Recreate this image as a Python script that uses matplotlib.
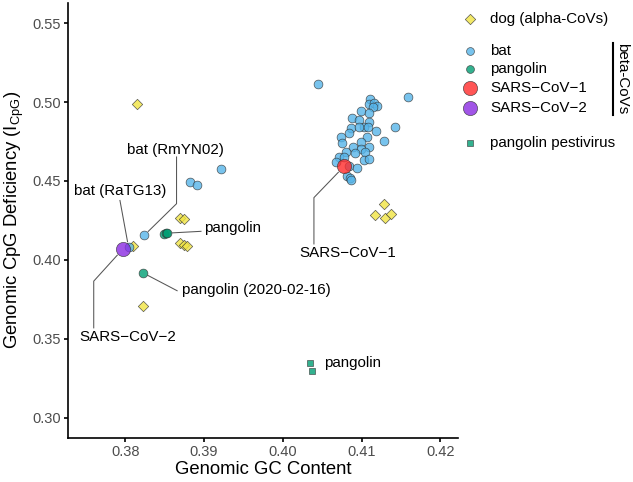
import numpy as np
import matplotlib
matplotlib.use("Agg")
import matplotlib.pyplot as plt

plt.rcParams['font.family'] = ['Liberation Sans', 'DejaVu Sans']
plt.rcParams['mathtext.fontset'] = 'custom'
plt.rcParams['mathtext.rm'] = 'Liberation Sans'
plt.rcParams['mathtext.it'] = 'Liberation Sans:italic'

# ---------------- data ----------------
dog_gc = [0.3815, 0.3870, 0.3875, 0.3870, 0.3874, 0.3878, 0.3822, 0.3810,
          0.4128, 0.4117, 0.4130, 0.4138]
dog_cpg = [0.4988, 0.4267, 0.4260, 0.4106, 0.4092, 0.4090, 0.3705, 0.4087,
           0.4356, 0.4286, 0.4263, 0.4290]

bat_gc = [0.4159, 0.4111, 0.4109, 0.4116, 0.4119, 0.4114, 0.4099, 0.4109,
          0.4088, 0.4097, 0.4110, 0.4103, 0.4086, 0.4097, 0.4108, 0.4118,
          0.4143, 0.4084, 0.4074, 0.4107, 0.4128, 0.4075, 0.4099, 0.4109,
          0.4089, 0.4099, 0.4080, 0.4092, 0.4105, 0.4071, 0.4078, 0.4103,
          0.4109, 0.4068, 0.4084, 0.4094, 0.4082, 0.4085, 0.4087, 0.4045,
          0.3921, 0.3882, 0.3891, 0.3824, 0.3804]
bat_cpg = [0.5031, 0.5019, 0.4988, 0.4997, 0.4976, 0.4971, 0.4946, 0.4929,
           0.4897, 0.4886, 0.4875, 0.4843, 0.4837, 0.4843, 0.4839, 0.4817,
           0.4839, 0.4801, 0.4779, 0.4779, 0.4753, 0.4741, 0.4747, 0.4715,
           0.4715, 0.4705, 0.4683, 0.4676, 0.4683, 0.4655, 0.4651, 0.4630,
           0.4641, 0.4621, 0.4598, 0.4583, 0.4534, 0.4519, 0.4506, 0.5117,
           0.4578, 0.4493, 0.4474, 0.4156, 0.4081]

pangolin_gc = [0.3849, 0.3851, 0.3853, 0.3822]
pangolin_cpg = [0.4166, 0.4172, 0.4168, 0.3919]

sars1_gc, sars1_cpg = [0.4078], [0.4594]
sars2_gc, sars2_cpg = [0.3797], [0.4070]

pesti_gc = [0.4034, 0.4037]
pesti_cpg = [0.3344, 0.3295]

x_ticks = [0.38, 0.39, 0.40, 0.41, 0.42]
y_ticks = [0.30, 0.35, 0.40, 0.45, 0.50, 0.55]

# annotations: label, text position, segment path (label end -> ... -> point)
annot_labels = ["bat (RmYN02)", "bat (RaTG13)", "pangolin", "pangolin (2020-02-16)",
                "SARS\u2212CoV\u22122", "SARS\u2212CoV\u22121", "pangolin"]
annot_text_xy = [(0.38641, 0.46983), (0.37930, 0.44375), (0.39362, 0.42024),
                 (0.39658, 0.38078), (0.38035, 0.35087), (0.40830, 0.40423),
                 (0.40522, 0.33440)]
annot_paths = [
    [(0.38650, 0.46554), (0.38650, 0.43562), (0.3824, 0.4156)],
    [(0.37930, 0.43799), (0.3804, 0.4081)],
    [(0.38967, 0.41813), (0.3851, 0.4169)],
    [(0.38663, 0.38033), (0.3822, 0.3919)],
    [(0.37598, 0.35663), (0.37598, 0.38655), (0.3797, 0.4070)],
    [(0.40395, 0.40980), (0.40395, 0.43946), (0.4078, 0.4594)],
    None,
]
annot_gap = [5, 5, 6, 5, 8, 8, 0]

# ---------------- style ----------------
W, H = 633, 482
fig = plt.figure(figsize=(W / 100, H / 100), dpi=100)
ax = fig.add_axes([68.3 / W, (H - 437.5) / H, (458 - 68.3) / W, (437.5 - 3.4) / H])
ax.set_xlim(0.37275, 0.42225)
ax.set_ylim(0.2875, 0.5625)

c_dog = '#F0E442'
c_bat = '#56B4E9'
c_pang = '#009E73'
c_s1 = '#FF2A2A'
c_s2 = '#8A2BE2'
ec = '#333333'
alpha = 0.8

ax.scatter(dog_gc, dog_cpg, marker='D', s=28, c=c_dog, alpha=alpha, edgecolors=ec, linewidths=0.5, zorder=3)
ax.scatter(bat_gc, bat_cpg, marker='o', s=40, c=c_bat, alpha=alpha, edgecolors=ec, linewidths=0.5, zorder=3)
ax.scatter(pangolin_gc, pangolin_cpg, marker='o', s=40, c=c_pang, alpha=alpha, edgecolors=ec, linewidths=0.5, zorder=3)
ax.scatter(sars1_gc, sars1_cpg, marker='o', s=105, c=c_s1, alpha=alpha, edgecolors=ec, linewidths=0.5, zorder=3)
ax.scatter(sars2_gc, sars2_cpg, marker='o', s=105, c=c_s2, alpha=alpha, edgecolors=ec, linewidths=0.5, zorder=3)
ax.scatter(pesti_gc, pesti_cpg, marker='s', s=24, c=c_pang, alpha=alpha, edgecolors=ec, linewidths=0.5, zorder=3)

# annotations
fig.canvas.draw()
for lab, txy, path, gap in zip(annot_labels, annot_text_xy, annot_paths, annot_gap):
    if path is None:
        ax.text(txy[0], txy[1], lab, fontsize=10.9, ha='left', va='center', color='black', zorder=5)
        continue
    ax.text(txy[0], txy[1], lab, fontsize=10.9, ha='center', va='center', color='black', zorder=5)
    disp = ax.transData.transform(np.array(path))
    p, q = disp[-1], disp[-2]
    d = q - p
    disp[-1] = p + d / np.hypot(*d) * gap
    dat = ax.transData.inverted().transform(disp)
    ax.plot(dat[:, 0], dat[:, 1], color='#555555', lw=0.75, zorder=4, solid_capstyle='butt')

for s in ['top', 'right']:
    ax.spines[s].set_visible(False)
for s in ['left', 'bottom']:
    ax.spines[s].set_linewidth(1.2)
ax.set_xticks(x_ticks)
ax.set_yticks(y_ticks)
ax.set_xticklabels([f"{v:.2f}" for v in x_ticks])
ax.set_yticklabels([f"{v:.2f}" for v in y_ticks])
ax.tick_params(length=3, width=1.2, color='black', labelcolor='#4D4D4D', labelsize=10.5, pad=2.5)

fig.text(263.2 / W, 1 - 469 / H, "Genomic GC Content", fontsize=13.3, ha='center', va='center')
fig.text(14 / W, 1 - 220 / H, r"Genomic CpG Deficiency (I$_{\mathregular{CpG}}$)", fontsize=13.3,
         ha='center', va='center', rotation=90)

# legend (figure pixel overlay)
lax = fig.add_axes([0, 0, 1, 1])
lax.set_xlim(0, W)
lax.set_ylim(H, 0)
lax.axis('off')
leg_items = [("dog (alpha-CoVs)", 'D', 28, c_dog, 19),
             ("bat", 'o', 32, c_bat, 50.7),
             ("pangolin", 'o', 32, c_pang, 69),
             ("SARS\u2212CoV\u22121", 'o', 105, c_s1, 88.3),
             ("SARS\u2212CoV\u22122", 'o', 105, c_s2, 108.3),
             ("pangolin pestivirus", 's', 22, c_pang, 143.3)]
for lab, mk, sz, col, yy in leg_items:
    lax.scatter([469.5], [yy], marker=mk, s=sz, c=col, alpha=alpha, edgecolors=ec, linewidths=0.5)
    lax.text(490, yy, lab, fontsize=10.9, ha='left', va='center')
lax.plot([613.3, 613.3], [43.3, 115], color='black', lw=1.5)
lax.text(622, 79, "beta-CoVs", fontsize=10.9, rotation=270, ha='center', va='center')

fig.savefig("out.png", dpi=100)
